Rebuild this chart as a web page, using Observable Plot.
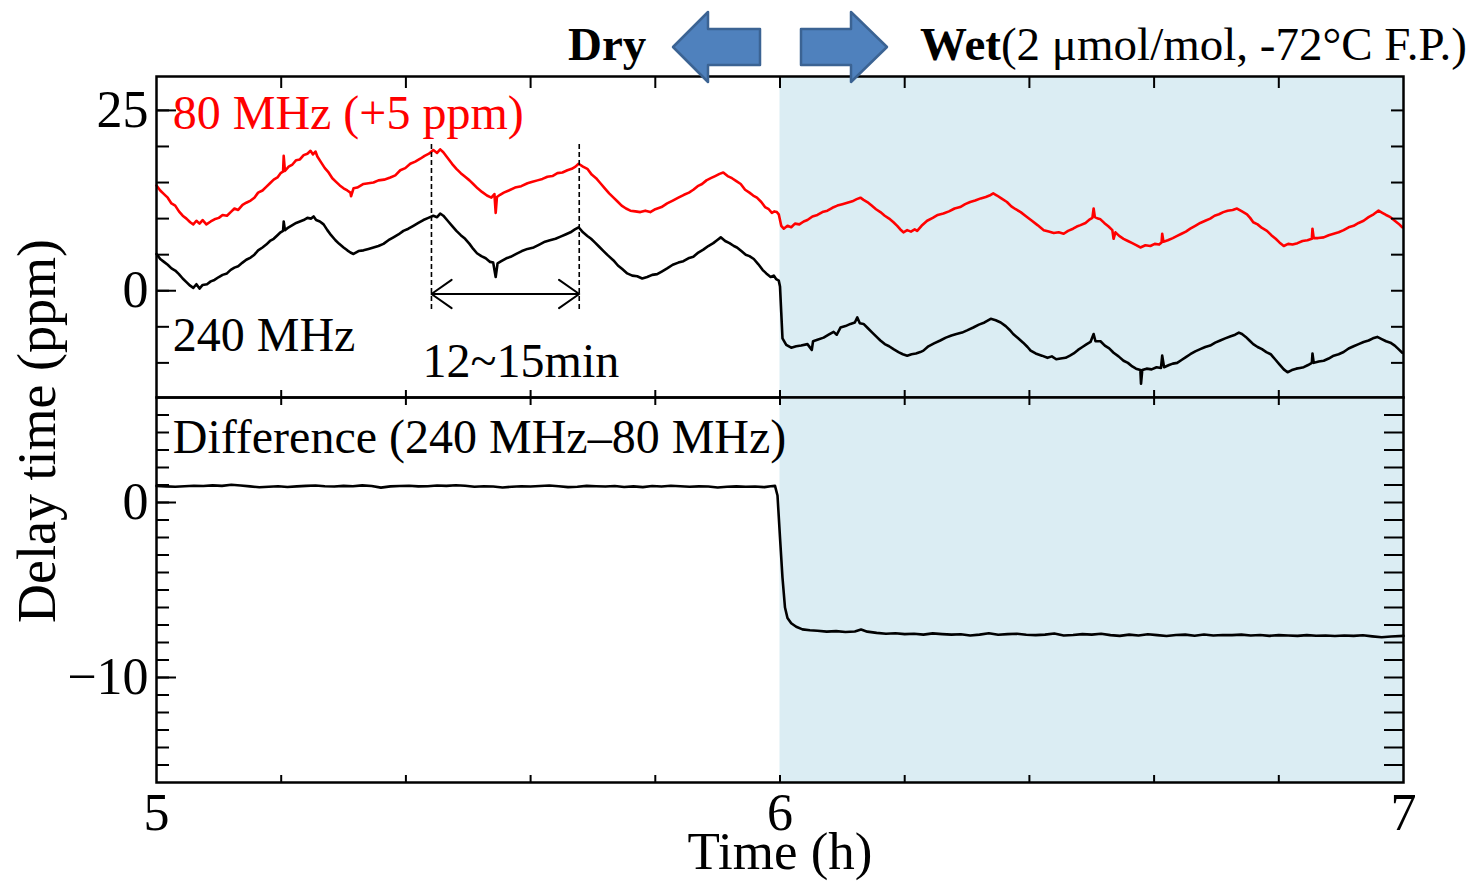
<!DOCTYPE html>
<html>
<head>
<meta charset="utf-8">
<script src="https://cdn.jsdelivr.net/npm/d3@7"></script>
<script src="https://cdn.jsdelivr.net/npm/@observablehq/plot@0.6"></script>
<style>
  html, body { margin: 0; padding: 0; background: #fff; }
  #chart { position: relative; width: 1478px; height: 882px; overflow: hidden; }
  #chart > svg { position: absolute; left: 0; top: 0; }
</style>
</head>
<body>
<div id="chart"></div>
<script>
// ---- data: time (h), delay-time change (ppm) ----
// 80 MHz channel, shifted up by 5 ppm for display
const delay80 = [
  [5.000,14.6],[5.006,13.9],[5.012,13.4],[5.018,12.9],[5.024,12.1],[5.030,11.8],[5.036,11.0],[5.042,10.4],
  [5.048,10.0],[5.054,9.5],[5.059,9.2],[5.064,9.7],[5.069,9.3],[5.074,9.8],[5.080,9.2],[5.087,9.6],
  [5.093,9.9],[5.100,10.1],[5.106,10.5],[5.113,10.4],[5.119,10.9],[5.125,11.4],[5.131,11.2],[5.138,11.9],
  [5.144,12.2],[5.151,12.5],[5.157,12.9],[5.163,13.6],[5.170,13.9],[5.176,14.4],[5.182,14.9],[5.188,15.4],
  [5.194,15.7],[5.199,16.3],[5.203,16.5],[5.204,18.7],[5.206,16.6],[5.212,17.2],[5.218,17.5],[5.224,18.1],
  [5.230,18.2],[5.236,18.8],[5.242,19.0],[5.247,19.4],[5.251,18.9],[5.255,19.3],[5.258,18.6],[5.264,17.8],
  [5.270,17.0],[5.276,16.4],[5.282,15.6],[5.288,15.1],[5.294,14.6],[5.300,14.2],[5.306,13.9],[5.311,13.6],
  [5.312,13.1],[5.316,14.2],[5.322,14.3],[5.332,14.8],[5.340,14.9],[5.348,15.0],[5.356,15.3],[5.365,15.4],
  [5.375,15.7],[5.383,16.0],[5.391,16.7],[5.399,17.0],[5.407,17.6],[5.415,17.9],[5.423,18.3],[5.430,18.7],
  [5.437,19.0],[5.444,19.5],[5.450,19.1],[5.455,19.6],[5.460,19.2],[5.467,18.4],[5.474,17.6],[5.481,16.9],
  [5.488,16.3],[5.495,15.8],[5.502,15.3],[5.508,14.8],[5.515,14.2],[5.522,13.7],[5.530,13.2],[5.537,12.9],
  [5.542,13.4],[5.544,10.8],[5.546,13.0],[5.551,13.3],[5.557,13.6],[5.565,13.9],[5.575,14.3],[5.585,14.5],
  [5.595,14.9],[5.603,15.1],[5.611,15.3],[5.619,15.5],[5.627,15.8],[5.635,15.9],[5.643,16.3],[5.651,16.4],
  [5.659,16.7],[5.666,16.9],[5.672,17.2],[5.677,17.6],[5.684,17.2],[5.691,16.9],[5.698,16.1],[5.705,15.6],
  [5.712,14.9],[5.719,14.2],[5.726,13.5],[5.733,12.9],[5.739,12.4],[5.746,11.8],[5.753,11.4],[5.760,11.1],
  [5.768,11.0],[5.776,10.9],[5.784,11.1],[5.792,10.9],[5.800,11.3],[5.810,11.6],[5.819,12.1],[5.828,12.5],
  [5.837,12.9],[5.846,13.3],[5.854,13.6],[5.861,14.0],[5.868,14.5],[5.875,14.8],[5.882,15.3],[5.889,15.6],
  [5.896,15.9],[5.903,16.2],[5.909,16.4],[5.916,15.9],[5.923,15.6],[5.930,15.2],[5.937,14.8],[5.944,14.0],
  [5.951,13.6],[5.957,13.2],[5.963,12.9],[5.970,12.3],[5.976,11.6],[5.982,11.3],[5.987,10.8],[5.991,11.0],
  [5.995,10.9],[5.998,10.6],[6.002,9.0],[6.006,8.6],[6.012,9.0],[6.018,8.8],[6.024,9.3],[6.031,9.2],
  [6.038,9.6],[6.044,9.8],[6.052,10.3],[6.060,10.5],[6.068,10.9],[6.076,11.1],[6.084,11.5],[6.092,11.8],
  [6.100,12.0],[6.108,12.2],[6.116,12.4],[6.123,12.7],[6.129,12.9],[6.134,12.6],[6.140,12.3],[6.147,11.8],
  [6.154,11.3],[6.161,10.9],[6.168,10.4],[6.175,10.0],[6.182,9.5],[6.188,9.0],[6.193,8.5],[6.198,8.1],
  [6.204,8.4],[6.210,8.2],[6.216,8.5],[6.220,8.3],[6.227,9.0],[6.236,9.7],[6.245,10.1],[6.253,10.5],
  [6.262,10.7],[6.271,11.0],[6.280,11.4],[6.289,11.6],[6.297,12.0],[6.305,12.3],[6.313,12.5],[6.322,12.8],
  [6.330,13.0],[6.336,13.2],[6.342,13.5],[6.348,13.2],[6.355,12.8],[6.364,12.3],[6.371,11.7],[6.378,11.3],
  [6.386,10.9],[6.395,10.3],[6.404,9.7],[6.413,9.1],[6.423,8.4],[6.431,8.2],[6.439,8.0],[6.447,8.1],
  [6.455,7.9],[6.462,8.3],[6.470,8.6],[6.476,8.9],[6.482,9.1],[6.490,9.4],[6.497,9.9],[6.501,10.1],
  [6.503,11.4],[6.505,10.2],[6.510,10.0],[6.514,9.9],[6.520,9.4],[6.527,8.9],[6.533,8.4],[6.535,7.2],
  [6.538,8.1],[6.544,7.6],[6.551,7.2],[6.558,6.9],[6.565,6.6],[6.572,6.3],[6.578,6.0],[6.586,6.3],
  [6.594,6.2],[6.601,6.5],[6.608,6.4],[6.612,6.7],[6.613,7.9],[6.615,6.8],[6.622,7.0],[6.630,7.3],
  [6.637,7.6],[6.644,7.9],[6.651,8.2],[6.658,8.6],[6.666,9.0],[6.674,9.4],[6.682,9.7],[6.690,10.0],
  [6.697,10.4],[6.704,10.6],[6.711,10.9],[6.718,11.1],[6.726,11.2],[6.733,11.4],[6.741,11.0],[6.749,10.6],
  [6.754,10.1],[6.759,9.5],[6.766,9.2],[6.773,8.7],[6.781,8.3],[6.788,7.7],[6.795,7.2],[6.801,6.7],
  [6.808,6.2],[6.815,6.5],[6.822,6.4],[6.830,6.6],[6.838,6.9],[6.846,7.0],[6.853,7.2],[6.854,8.6],
  [6.856,7.3],[6.863,7.3],[6.872,7.4],[6.880,7.7],[6.888,7.9],[6.896,8.1],[6.904,8.4],[6.912,8.8],
  [6.920,9.0],[6.928,9.4],[6.936,9.7],[6.944,10.2],[6.952,10.6],[6.960,11.1],[6.966,10.8],[6.972,10.5],
  [6.979,10.2],[6.986,9.7],[6.992,9.3],[6.998,8.8]
];

// 240 MHz channel
const delay240 = [
  [5.000,5.1],[5.006,4.4],[5.012,4.0],[5.018,3.6],[5.024,3.1],[5.030,2.8],[5.036,2.3],[5.042,1.7],
  [5.048,1.2],[5.054,0.7],[5.059,0.4],[5.064,0.9],[5.069,0.3],[5.074,0.8],[5.081,0.9],[5.087,1.3],
  [5.093,1.5],[5.100,1.9],[5.106,2.2],[5.113,2.4],[5.119,2.9],[5.125,3.2],[5.131,3.4],[5.138,3.9],
  [5.144,4.3],[5.151,4.6],[5.157,5.0],[5.163,5.6],[5.170,6.0],[5.176,6.4],[5.182,6.9],[5.188,7.2],
  [5.194,7.7],[5.199,8.1],[5.203,8.3],[5.204,9.6],[5.206,8.4],[5.212,8.8],[5.218,9.1],[5.224,9.4],
  [5.230,9.6],[5.236,9.8],[5.242,10.1],[5.248,10.0],[5.252,10.3],[5.256,9.8],[5.262,9.6],[5.268,9.2],
  [5.274,8.4],[5.280,7.7],[5.287,7.0],[5.293,6.5],[5.300,6.0],[5.306,5.6],[5.311,5.3],[5.316,5.1],
  [5.324,5.5],[5.332,5.6],[5.340,5.8],[5.348,6.0],[5.356,6.2],[5.364,6.5],[5.372,7.0],[5.380,7.4],
  [5.388,7.8],[5.396,8.3],[5.404,8.6],[5.412,9.0],[5.420,9.4],[5.428,9.8],[5.436,10.1],[5.444,10.4],
  [5.450,10.2],[5.455,10.7],[5.460,10.4],[5.467,9.7],[5.474,9.0],[5.481,8.3],[5.488,7.7],[5.495,7.2],
  [5.502,6.5],[5.508,5.8],[5.514,5.2],[5.521,4.8],[5.528,4.5],[5.535,4.0],[5.540,3.9],[5.544,1.9],
  [5.547,3.8],[5.553,4.1],[5.561,4.5],[5.568,4.7],[5.577,5.1],[5.586,5.5],[5.595,5.8],[5.605,6.0],
  [5.614,6.4],[5.623,6.8],[5.631,7.0],[5.640,7.2],[5.648,7.5],[5.656,7.8],[5.664,8.1],[5.671,8.5],
  [5.677,8.8],[5.684,8.1],[5.691,7.6],[5.697,7.2],[5.703,6.7],[5.710,6.1],[5.717,5.5],[5.724,4.9],
  [5.733,4.2],[5.740,3.5],[5.747,3.0],[5.755,2.4],[5.763,2.1],[5.771,2.0],[5.779,1.7],[5.787,1.9],
  [5.795,2.2],[5.803,2.3],[5.811,2.7],[5.819,3.1],[5.828,3.6],[5.837,3.9],[5.845,4.1],[5.853,4.5],
  [5.861,4.7],[5.869,5.3],[5.877,5.7],[5.885,6.2],[5.893,6.6],[5.899,7.0],[5.905,7.4],[5.912,6.9],
  [5.919,6.6],[5.926,6.2],[5.931,6.0],[5.938,5.5],[5.945,5.0],[5.951,4.8],[5.958,4.4],[5.965,3.7],
  [5.972,2.9],[5.978,2.4],[5.985,1.9],[5.990,2.1],[5.994,1.6],[5.998,1.4],[6.000,0.6],[6.002,-3.0],
  [6.004,-6.6],[6.010,-7.5],[6.018,-7.9],[6.026,-7.7],[6.034,-7.6],[6.044,-7.4],[6.051,-8.2],[6.053,-7.0],
  [6.060,-6.8],[6.070,-6.5],[6.078,-6.1],[6.086,-5.7],[6.091,-6.1],[6.097,-5.1],[6.105,-4.9],[6.113,-4.6],
  [6.120,-4.4],[6.124,-3.7],[6.128,-4.5],[6.134,-4.6],[6.141,-5.2],[6.148,-5.8],[6.155,-6.4],[6.161,-6.9],
  [6.168,-7.4],[6.175,-7.7],[6.182,-8.1],[6.190,-8.5],[6.197,-8.8],[6.204,-9.0],[6.211,-8.8],[6.218,-8.7],
  [6.225,-8.5],[6.230,-8.3],[6.238,-7.7],[6.247,-7.3],[6.257,-6.9],[6.266,-6.5],[6.275,-6.2],[6.283,-6.0],
  [6.292,-5.8],[6.300,-5.5],[6.310,-5.1],[6.319,-4.7],[6.328,-4.4],[6.338,-3.9],[6.346,-4.1],[6.354,-4.4],
  [6.362,-4.9],[6.368,-5.4],[6.374,-6.0],[6.382,-6.6],[6.390,-7.2],[6.397,-7.8],[6.402,-8.3],[6.410,-8.7],
  [6.420,-9.0],[6.429,-9.3],[6.436,-9.1],[6.443,-9.5],[6.450,-9.4],[6.458,-9.3],[6.465,-9.0],[6.471,-8.7],
  [6.478,-8.2],[6.485,-7.8],[6.492,-7.4],[6.498,-7.1],[6.503,-6.0],[6.506,-7.0],[6.514,-7.0],[6.521,-7.6],
  [6.528,-8.0],[6.535,-8.6],[6.543,-9.1],[6.551,-9.7],[6.558,-10.0],[6.565,-10.5],[6.571,-10.8],[6.578,-11.0],
  [6.579,-12.9],[6.581,-11.0],[6.588,-10.8],[6.596,-10.9],[6.604,-10.6],[6.611,-10.7],[6.613,-9.0],[6.616,-10.6],
  [6.624,-10.3],[6.630,-10.1],[6.637,-10.0],[6.644,-9.6],[6.651,-9.2],[6.658,-8.8],[6.666,-8.4],[6.674,-8.1],
  [6.682,-7.8],[6.690,-7.6],[6.698,-7.2],[6.706,-6.9],[6.714,-6.6],[6.723,-6.3],[6.730,-6.1],[6.736,-5.8],
  [6.741,-6.0],[6.747,-6.4],[6.753,-6.9],[6.759,-7.4],[6.766,-7.8],[6.773,-8.1],[6.780,-8.5],[6.787,-8.8],
  [6.794,-9.5],[6.801,-10.2],[6.808,-10.9],[6.814,-11.3],[6.821,-11.0],[6.828,-10.8],[6.834,-10.7],[6.840,-10.6],
  [6.847,-10.3],[6.853,-10.0],[6.854,-8.7],[6.856,-10.0],[6.864,-9.8],[6.872,-9.7],[6.880,-9.4],[6.888,-9.0],
  [6.896,-8.8],[6.904,-8.5],[6.912,-8.0],[6.920,-7.7],[6.928,-7.4],[6.936,-7.1],[6.944,-6.9],[6.951,-6.6],
  [6.958,-6.4],[6.965,-6.7],[6.972,-7.0],[6.979,-7.2],[6.986,-7.6],[6.992,-8.1],[6.998,-8.6]
];

// difference 240 MHz – 80 MHz
const delayDiff = [
  [5.000,0.95],[5.015,0.92],[5.030,0.90],[5.045,0.93],[5.060,0.96],[5.075,0.94],[5.090,0.98],[5.105,0.95],
  [5.120,1.01],[5.135,0.97],[5.150,0.92],[5.165,0.87],[5.180,0.90],[5.195,0.93],[5.210,0.89],[5.225,0.92],
  [5.240,0.95],[5.255,0.97],[5.270,0.93],[5.285,0.91],[5.300,0.95],[5.315,0.93],[5.330,0.98],[5.345,0.94],
  [5.360,0.85],[5.375,0.92],[5.390,0.94],[5.405,0.96],[5.420,0.92],[5.435,0.93],[5.450,0.97],[5.465,0.95],
  [5.480,0.99],[5.495,0.96],[5.510,0.90],[5.525,0.93],[5.540,0.91],[5.555,0.86],[5.570,0.90],[5.585,0.93],
  [5.600,0.91],[5.615,0.94],[5.630,0.97],[5.645,0.93],[5.660,0.88],[5.675,0.90],[5.690,0.95],[5.705,0.93],
  [5.720,0.91],[5.735,0.94],[5.750,0.89],[5.765,0.92],[5.780,0.88],[5.795,0.94],[5.810,0.91],[5.825,0.96],
  [5.840,0.93],[5.855,0.90],[5.870,0.92],[5.885,0.91],[5.900,0.86],[5.915,0.90],[5.930,0.92],[5.945,0.90],
  [5.960,0.91],[5.975,0.88],[5.985,0.93],[5.992,0.95],[5.996,0.40],[6.000,-2.00],[6.004,-4.30],[6.008,-6.00],
  [6.012,-6.60],[6.018,-6.90],[6.026,-7.10],[6.036,-7.25],[6.048,-7.30],[6.060,-7.33],[6.075,-7.38],[6.090,-7.35],
  [6.105,-7.40],[6.120,-7.37],[6.130,-7.26],[6.140,-7.38],[6.155,-7.45],[6.170,-7.50],[6.185,-7.47],[6.200,-7.52],
  [6.215,-7.50],[6.230,-7.55],[6.245,-7.48],[6.260,-7.52],[6.275,-7.55],[6.290,-7.53],[6.305,-7.60],[6.320,-7.55],
  [6.335,-7.47],[6.350,-7.56],[6.365,-7.52],[6.380,-7.50],[6.395,-7.56],[6.410,-7.58],[6.425,-7.55],[6.440,-7.49],
  [6.455,-7.60],[6.470,-7.57],[6.485,-7.52],[6.500,-7.55],[6.515,-7.50],[6.530,-7.58],[6.545,-7.62],[6.560,-7.55],
  [6.575,-7.60],[6.590,-7.53],[6.605,-7.58],[6.620,-7.63],[6.635,-7.57],[6.650,-7.55],[6.665,-7.61],[6.680,-7.54],
  [6.695,-7.60],[6.710,-7.57],[6.725,-7.58],[6.740,-7.55],[6.755,-7.60],[6.770,-7.57],[6.785,-7.62],[6.800,-7.58],
  [6.815,-7.60],[6.830,-7.62],[6.845,-7.58],[6.860,-7.61],[6.875,-7.60],[6.890,-7.63],[6.905,-7.60],[6.920,-7.62],
  [6.935,-7.59],[6.950,-7.65],[6.965,-7.70],[6.980,-7.66],[7.000,-7.62]
];

// wet-gas period (h) and the two peaks marking the oscillation period
const wetPeriod = [[6, 7]];
const periodPeaks = [5.441, 5.678];

// tick values
const hourTicks = [5.2, 5.4, 5.6, 5.8, 6.0, 6.2, 6.4, 6.6, 6.8];
const hourLabels = [5, 6, 7];
const topTicks = [-10, -5, 0, 5, 10, 15, 20, 25];
const topLabels = [0, 25];
const diffTicks = [-15, -14, -13, -12, -11, -10, -9, -8, -7, -6, -5, -4, -3, -2, -1, 0, 1, 2, 3, 4, 5];
const diffLabels = [-10, 0];

// ---- styling ----
const serif = '"Liberation Serif", "Times New Roman", Times, serif';
const wetFill = "#dbedf3";
const W = 1478, H = 882;
const blank = () => "";
const integer = d3.format("d");
const px = d => d[0], py = d => d[1];

// ticks pointing into the frame (negative tickSize)
function innerTicks(axis, ticks, anchor, size) {
  return axis({ticks, anchor, tickSize: -size, tickFormat: blank, strokeWidth: 2, label: null});
}

const topPanel = Plot.plot({
  width: W, height: H,
  marginLeft: 156, marginRight: 75, marginTop: 76, marginBottom: H - 397,
  style: {background: "transparent", overflow: "visible", fontFamily: serif},
  x: {domain: [5, 7]},
  y: {domain: [-14.8, 29.7]},
  marks: [
    Plot.rect(wetPeriod, {x1: px, x2: py, fill: wetFill}),
    Plot.line(delay80, {x: px, y: py, stroke: "#ff0000", strokeWidth: 2.6}),
    Plot.line(delay240, {x: px, y: py, stroke: "#000", strokeWidth: 2.6}),
    Plot.ruleX(periodPeaks, {x: d => d, y1: -2.6, y2: 20.5, stroke: "#000", strokeWidth: 1.6, strokeDasharray: "5,3"}),
    Plot.arrow(periodPeaks, {x1: d3.mean(periodPeaks), y1: -0.45, x2: d => d, y2: -0.45,
      stroke: "#000", strokeWidth: 2, headLength: 20, headAngle: 70}),
    Plot.text(["80 MHz (+5 ppm)"], {x: 5.026, y: 24.5, text: d => d, textAnchor: "start",
      fill: "#ff0000", fontSize: 48, fontFamily: serif}),
    Plot.text(["240 MHz"], {x: 5.026, y: -6.2, text: d => d, textAnchor: "start",
      fill: "#000", fontSize: 48, fontFamily: serif}),
    Plot.text(["12~15min"], {x: d3.mean(periodPeaks) + 0.025, y: -9.8, text: d => d, textAnchor: "middle",
      fill: "#000", fontSize: 48, fontFamily: serif}),
    innerTicks(Plot.axisX, hourTicks, "top", 11),
    innerTicks(Plot.axisX, hourTicks, "bottom", 7),
    innerTicks(Plot.axisY, topTicks, "left", 13),
    innerTicks(Plot.axisY, topLabels, "left", 20),
    innerTicks(Plot.axisY, topTicks, "right", 13),
    Plot.axisY({ticks: topLabels, anchor: "left", tickSize: 0, tickPadding: 8, fontSize: 52,
      fontFamily: serif, tickFormat: integer, label: null}),
    Plot.frame({stroke: "#000", strokeWidth: 2.5})
  ]
});

const bottomPanel = Plot.plot({
  width: W, height: H,
  marginLeft: 156, marginRight: 75, marginTop: 397, marginBottom: H - 782,
  style: {background: "transparent", overflow: "visible", fontFamily: serif},
  x: {domain: [5, 7]},
  y: {domain: [-16, 6]},
  marks: [
    Plot.rect(wetPeriod, {x1: px, x2: py, fill: wetFill}),
    Plot.line(delayDiff, {x: px, y: py, stroke: "#000", strokeWidth: 2.6}),
    Plot.text(["Difference (240 MHz\u201380 MHz)"], {x: 5.026, y: 3.7, text: d => d, textAnchor: "start",
      fill: "#000", fontSize: 48, fontFamily: serif}),
    innerTicks(Plot.axisX, hourTicks, "top", 7),
    innerTicks(Plot.axisX, hourTicks, "bottom", 7),
    innerTicks(Plot.axisY, diffTicks, "left", 13),
    innerTicks(Plot.axisY, diffLabels, "left", 20),
    innerTicks(Plot.axisY, diffTicks, "right", 20),
    Plot.axisY({ticks: diffLabels, anchor: "left", tickSize: 0, tickPadding: 8, fontSize: 52,
      fontFamily: serif, label: null}),
    Plot.axisX({ticks: hourLabels, anchor: "bottom", tickSize: 0, tickPadding: 11, fontSize: 52,
      fontFamily: serif, tickFormat: integer, label: null}),
    Plot.text(["Time (h)"], {frameAnchor: "bottom", dy: 86, text: d => d, fontSize: 53,
      fontFamily: serif, fill: "#000"}),
    Plot.frame({stroke: "#000", strokeWidth: 2.5})
  ]
});

const chart = document.getElementById("chart");
chart.append(topPanel, bottomPanel);

// shared y label and the dry / wet header with block arrows
const ns = "http://www.w3.org/2000/svg";
const overlay = d3.select(chart).append("svg")
  .attr("xmlns", ns).attr("width", W).attr("height", H)
  .style("font-family", serif);

overlay.append("text")
  .attr("transform", "translate(55,431) rotate(-90)")
  .attr("text-anchor", "middle")
  .attr("font-size", 54)
  .text("Delay time (ppm)");

const arrowStyle = sel => sel.attr("fill", "#4f81bd").attr("stroke", "#3b6393")
  .attr("stroke-width", 2.5).attr("stroke-linejoin", "round");
overlay.append("polygon")
  .attr("points", "673,47 708,12 708,29 760,29 760,65 708,65 708,82")
  .call(arrowStyle);
overlay.append("polygon")
  .attr("points", "801,29 851,29 851,12 887,47 851,82 851,65 801,65")
  .call(arrowStyle);

overlay.append("text")
  .attr("x", 568).attr("y", 60)
  .attr("font-size", 47).attr("font-weight", "bold")
  .text("Dry");

const wet = overlay.append("text")
  .attr("x", 920).attr("y", 60)
  .attr("font-size", 47);
wet.append("tspan").attr("font-weight", "bold").text("Wet");
wet.append("tspan").text("(2 \u03bcmol/mol, -72\u00b0C F.P.)");
</script>
</body>
</html>
